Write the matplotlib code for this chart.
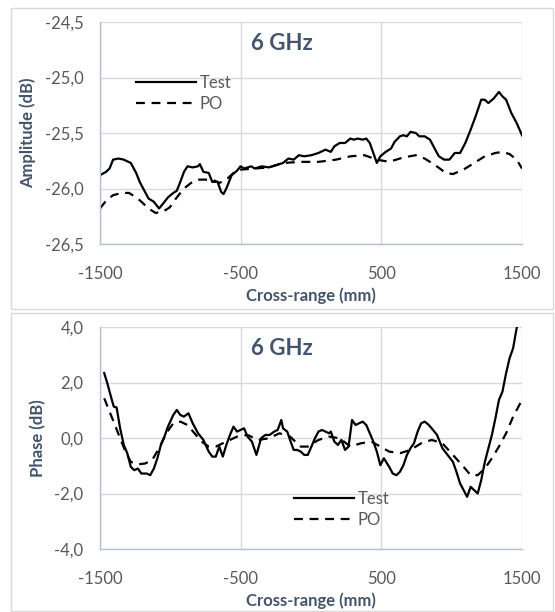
import numpy as np
import matplotlib
matplotlib.use("Agg")
import matplotlib.pyplot as plt
from matplotlib.patches import Rectangle

# -------------------------
# DATA
# -------------------------
amp_test_x = [-1500, -1457, -1432, -1407, -1369, -1331, -1281, -1243, -1218, -1193,
              -1155, -1117, -1080, -1054, -1017, -979, -954, -929, -903, -878,
              -841, -803, -790, -765, -727, -702, -664, -639, -622, -602,
              -564, -526, -501, -476, -425, -400, -350, -300, -249, -199,
              -161, -123, -86, -48, 3, 53, 103, 141, 166, 204,
              242, 280, 305, 330, 368, 393, 418, 443, 468, 493,
              531, 569, 594, 632, 657, 682, 707, 745, 770, 808,
              846, 883, 909, 946, 984, 1022, 1060, 1097, 1135, 1173,
              1210, 1235, 1261, 1298, 1336, 1361, 1387, 1424, 1462, 1500]
amp_test_y = [-25.88, -25.85, -25.82, -25.74, -25.73, -25.74, -25.77, -25.86, -25.94, -26.00,
              -26.09, -26.12, -26.18, -26.14, -26.08, -26.04, -26.02, -25.94, -25.85, -25.80,
              -25.81, -25.80, -25.78, -25.85, -25.86, -25.94, -25.94, -26.03, -26.05, -26.00,
              -25.88, -25.84, -25.80, -25.82, -25.80, -25.82, -25.80, -25.81, -25.79, -25.77,
              -25.73, -25.74, -25.70, -25.71, -25.70, -25.68, -25.65, -25.67, -25.62, -25.59,
              -25.59, -25.55, -25.56, -25.55, -25.56, -25.55, -25.59, -25.68, -25.77, -25.71,
              -25.67, -25.64, -25.58, -25.53, -25.52, -25.53, -25.49, -25.50, -25.53, -25.53,
              -25.56, -25.65, -25.71, -25.74, -25.74, -25.68, -25.68, -25.59, -25.47, -25.34,
              -25.20, -25.20, -25.23, -25.19, -25.13, -25.17, -25.20, -25.32, -25.41, -25.52]

amp_po_x = [-1500, -1457, -1407, -1344, -1294, -1243, -1205, -1155, -1105, -1054,
            -1004, -954, -903, -853, -803, -753, -702, -652, -602, -551,
            -501, -400, -300, -199, -73, 53, 178, 280, 380, 468,
            556, 657, 745, 808, 883, 959, 1009, 1084, 1160, 1235,
            1311, 1361, 1412, 1462, 1500]
amp_po_y = [-26.18, -26.11, -26.06, -26.04, -26.04, -26.08, -26.12, -26.18, -26.22, -26.21,
            -26.17, -26.08, -26.00, -25.95, -25.92, -25.92, -25.92, -25.95, -25.92, -25.86,
            -25.83, -25.82, -25.81, -25.77, -25.76, -25.76, -25.74, -25.71, -25.70, -25.74,
            -25.76, -25.72, -25.70, -25.73, -25.79, -25.86, -25.87, -25.83, -25.77, -25.71,
            -25.68, -25.67, -25.69, -25.74, -25.82]

ph_test_x = [-1470, -1445, -1419, -1402, -1382, -1357, -1331, -1306, -1281, -1256,
             -1231, -1206, -1168, -1143, -1117, -1092, -1067, -1042, -1017, -979,
             -954, -929, -904, -871, -841, -803, -765, -727, -702, -677,
             -652, -627, -602, -576, -551, -526, -501, -476, -451, -420,
             -388, -355, -325, -294, -262, -237, -211, -199, -169, -149,
             -123, -98, -73, -48, -23, 3, 28, 53, 78, 103,
             128, 141, 166, 191, 216, 242, 267, 292, 317, 342,
             367, 393, 418, 443, 468, 493, 518, 556, 581, 607,
             632, 657, 682, 707, 732, 758, 783, 808, 833, 858,
             896, 934, 971, 1009, 1034, 1060, 1085, 1110, 1135, 1160,
             1185, 1210, 1236, 1261, 1286, 1311, 1336, 1361, 1387, 1412,
             1437, 1462, 1475]
ph_test_y = [2.34, 1.92, 1.43, 1.13, 1.10, 0.35, -0.25, -0.55, -1.04, -1.16,
             -1.10, -1.28, -1.28, -1.34, -1.10, -0.73, -0.25, 0.05, 0.41, 0.83,
             1.01, 0.83, 0.77, 0.89, 0.53, 0.17, -0.07, -0.49, -0.67, -0.67,
             -0.31, -0.67, -0.25, 0.11, 0.41, 0.23, 0.29, 0.35, 0.05, -0.13,
             -0.61, -0.01, 0.11, 0.11, 0.23, 0.29, 0.65, 0.35, 0.23, -0.07,
             -0.43, -0.43, -0.49, -0.61, -0.61, -0.31, -0.01, 0.23, 0.29, 0.23,
             0.17, 0.23, -0.13, -0.25, -0.07, -0.43, -0.31, 0.65, 0.47, 0.53,
             0.59, 0.47, 0.17, -0.13, -0.49, -0.98, -0.73, -1.04, -1.28, -1.34,
             -1.22, -0.98, -0.61, -0.37, -0.19, 0.23, 0.53, 0.59, 0.49, 0.35,
             0.11, -0.37, -0.61, -0.86, -1.22, -1.64, -1.88, -2.12, -1.76, -1.88,
             -2.00, -1.52, -0.86, -0.37, 0.11, 0.71, 1.37, 1.67, 2.34, 2.88,
             3.24, 3.96, 4.20]

ph_po_x = [-1470, -1432, -1394, -1357, -1319, -1281, -1231, -1180, -1130, -1080,
           -1029, -979, -929, -878, -828, -778, -727, -677, -602, -526,
           -451, -375, -300, -224, -149, -73, -23, 53, 128, 204,
           280, 355, 430, 493, 556, 632, 707, 783, 858, 934,
           1009, 1085, 1135, 1185, 1236, 1286, 1336, 1387, 1437, 1500]
ph_po_y = [1.43, 0.95, 0.47, -0.01, -0.49, -0.86, -0.95, -0.92, -0.80, -0.37,
           0.17, 0.53, 0.59, 0.47, 0.17, -0.13, -0.31, -0.31, -0.13, 0.05,
           0.11, -0.07, -0.01, 0.17, 0.05, -0.31, -0.31, -0.07, 0.05, -0.01,
           -0.31, -0.19, -0.13, -0.31, -0.49, -0.55, -0.43, -0.19, -0.07, -0.19,
           -0.61, -1.04, -1.34, -1.34, -1.10, -0.73, -0.31, 0.17, 0.77, 1.37]

x_ticks = [-1500, -500, 500, 1500]
x_ticklabels = ["-1500", "-500", "500", "1500"]
amp_ticks = [-26.5, -26.0, -25.5, -25.0, -24.5]
amp_ticklabels = ["-26,5", "-26,0", "-25,5", "-25,0", "-24,5"]
ph_ticks = [-4.0, -2.0, 0.0, 2.0, 4.0]
ph_ticklabels = ["-4,0", "-2,0", "0,0", "2,0", "4,0"]

# -------------------------
# STYLE
# -------------------------
plt.rcParams['font.family'] = ['Lato', 'DejaVu Sans']
tick_col = '#595959'
label_col = '#44546A'
grid_col = '#D9D9D9'

fig = plt.figure(figsize=(5.55, 6.12), dpi=100)

# outer chart frames
for y0, y1 in [(8, 309), (313, 611)]:
    fig.patches.append(Rectangle((11 / 555, 1 - y1 / 612), 542 / 555, (y1 - y0) / 612,
                                 transform=fig.transFigure, fill=False,
                                 edgecolor='#D9D9D9', linewidth=1.0))

ax1 = fig.add_axes([100 / 555, 1 - 244 / 612, 422 / 555, 222 / 612])
ax2 = fig.add_axes([100 / 555, 1 - 549 / 612, 422 / 555, 222 / 612])


def style_axes(ax, yticks, yticklabels, ylim, ylabel):
    ax.set_xlim(-1500, 1500)
    ax.set_ylim(*ylim)
    ax.set_xticks(x_ticks)
    ax.set_xticklabels(x_ticklabels)
    ax.set_yticks(yticks)
    ax.set_yticklabels(yticklabels)
    ax.tick_params(length=0, colors=tick_col, labelsize=12)
    ax.tick_params(axis='x', pad=16)
    ax.tick_params(axis='y', pad=12)
    ax.grid(True, color=grid_col, linewidth=1.0)
    ax.set_axisbelow(True)
    for s in ['top', 'right']:
        ax.spines[s].set_visible(False)
    for s in ['left', 'bottom']:
        ax.spines[s].set_color('#B4C0D3')
        ax.spines[s].set_linewidth(1.0)
    ax.set_xlabel("Cross-range (mm)", fontsize=12, fontweight='bold', color=label_col, labelpad=4)
    ax.set_ylabel(ylabel, fontsize=12, fontweight='bold', color=label_col, labelpad=6)
    ax.text(0.43, 0.905, "6 GHz", transform=ax.transAxes, ha='center', va='center',
            fontsize=16, fontweight='bold', color=label_col)


# Amplitude panel
ax1.plot(amp_test_x, amp_test_y, color='black', linewidth=1.6, label='Test')
ax1.plot(amp_po_x, amp_po_y, color='black', linewidth=1.6, linestyle=(0, (4, 3)), label='PO')
style_axes(ax1, amp_ticks, amp_ticklabels, (-26.5, -24.5), "Amplitude (dB)")
ax1.legend(loc='upper left', bbox_to_anchor=(0.07, 0.79), frameon=False, fontsize=12,
           labelcolor=tick_col, handlelength=3.6, handletextpad=0.2, labelspacing=0.3,
           borderaxespad=0)

# Phase panel
ax2.plot(ph_test_x, ph_test_y, color='black', linewidth=1.6, label='Test')
ax2.plot(ph_po_x, ph_po_y, color='black', linewidth=1.6, linestyle=(0, (4, 3)), label='PO')
style_axes(ax2, ph_ticks, ph_ticklabels, (-4.0, 4.0), "Phase (dB)")
ax2.legend(loc='upper left', bbox_to_anchor=(0.445, 0.29), frameon=False, fontsize=12,
           labelcolor=tick_col, handlelength=3.6, handletextpad=0.2, labelspacing=0.3,
           borderaxespad=0)

fig.savefig("out.png", dpi=100)
